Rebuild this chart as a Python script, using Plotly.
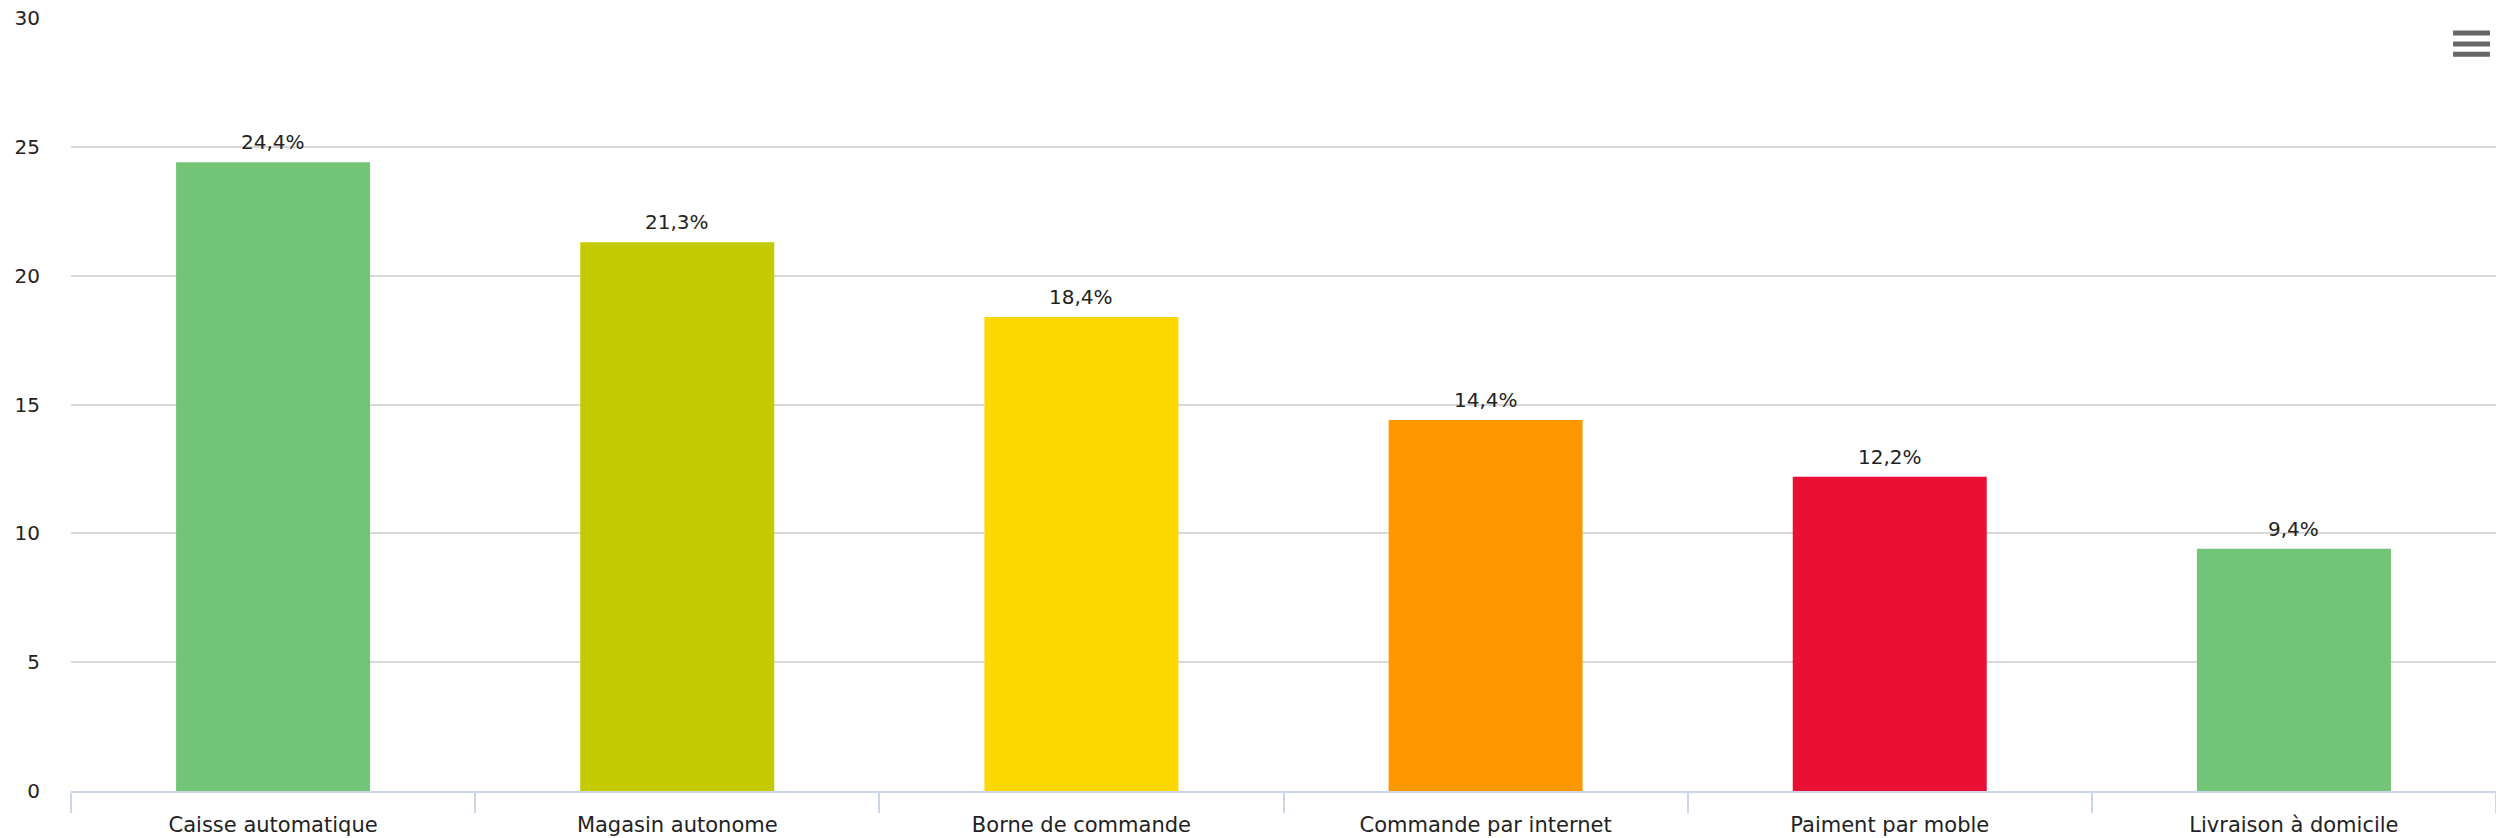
import plotly.graph_objects as go

categories = ["Caisse automatique", "Magasin autonome", "Borne de commande",
              "Commande par internet", "Paiment par moble", "Livraison à domicile"]
values = [24.4, 21.3, 18.4, 14.4, 12.2, 9.4]
colors = ["#72c577", "#c3ca00", "#fdd800", "#ff9800", "#ea1035", "#72c577"]
y_ticks = [0, 5, 10, 15, 20, 25, 30]

FONT = "'DejaVu Sans', sans-serif"

fig = go.Figure(
    go.Bar(
        x=categories,
        y=values,
        marker=dict(color=colors, line=dict(width=0)),
        width=0.48,
        hoverinfo="x+y",
    )
)

# value labels above each bar
for cat, val in zip(categories, values):
    fig.add_annotation(
        x=cat, y=val, xref="x", yref="y",
        text=f"{val:.1f}%".replace(".", ","),
        showarrow=False, yanchor="bottom", yshift=6,
        font=dict(family=FONT, size=20, color="#222222"),
    )

fig.update_layout(
    width=2496,
    height=838,
    margin=dict(l=71, r=0, t=18, b=47),
    paper_bgcolor="white",
    plot_bgcolor="white",
    showlegend=False,
    font=dict(family=FONT, size=20, color="#333333"),
    xaxis=dict(
        type="category",
        tickson="boundaries",
        ticks="outside",
        ticklen=20,
        tickwidth=2,
        tickcolor="#ccd6eb",
        showline=True,
        linecolor="#ccd6eb",
        linewidth=2,
        showgrid=False,
        ticklabelstandoff=14,
        tickfont=dict(family=FONT, size=21, color="#222222"),
        fixedrange=True,
    ),
    yaxis=dict(
        range=[0, 30],
        tickvals=y_ticks,
        showgrid=True,
        gridcolor="#d9d9d9",
        gridwidth=2,
        zeroline=False,
        showline=False,
        ticks="",
        ticklabelstandoff=30,
        tickfont=dict(family=FONT, size=20, color="#222222"),
        fixedrange=True,
    ),
)

# context menu icon (three bars) in the top-right corner
for yy in (0.9806, 0.9664, 0.9530):
    fig.add_shape(
        type="line", xref="paper", yref="paper",
        x0=0.9823, x1=0.9975, y0=yy, y1=yy,
        line=dict(color="#666666", width=5),
    )

fig.write_html("out.html", config={"displayModeBar": False})
